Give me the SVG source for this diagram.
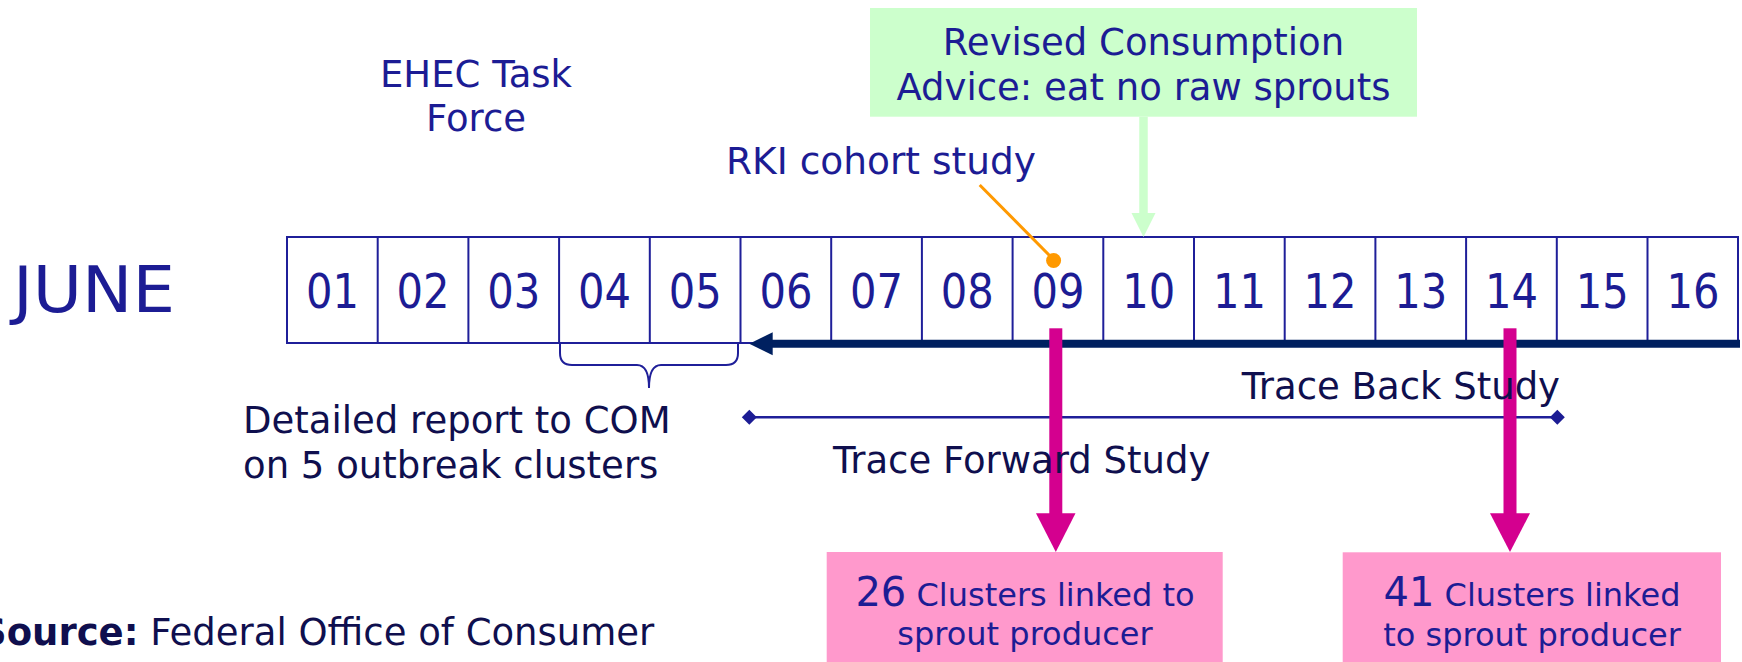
<svg xmlns="http://www.w3.org/2000/svg" width="1742" height="662" viewBox="0 0 1742 662">
<style>
  text { font-family: "DejaVu Sans", Verdana, sans-serif; }
  .blue { fill: #1C1C94; }
  .dark { fill: #0F0F4E; }
  .t37 { font-size: 37px; }
  .num { font-size: 48px; fill: #1C1C94; text-anchor: middle; }
  .grid { stroke: #1F1F99; stroke-width: 2; fill: none; }
  .pinkbox { fill: #FF99CC; }
  .pinktxt { fill: #1C1C94; text-anchor: middle; }
</style>
<defs>
  <marker id="diamond" markerUnits="userSpaceOnUse" markerWidth="16" markerHeight="16" refX="8" refY="8" viewBox="0 0 16 16">
    <path d="M8,0.5 L15.5,8 L8,15.5 L0.5,8 Z" fill="#1C1C94"/>
  </marker>
</defs>

<g id="timeline">
  <rect x="287" y="237" width="1451" height="106" class="grid"/>
  <path class="grid" d="M377.7,237V343 M468.4,237V343 M559.1,237V343 M649.8,237V343 M740.5,237V343 M831.2,237V343 M921.9,237V343 M1012.6,237V343 M1103.3,237V343 M1194,237V343 M1284.7,237V343 M1375.4,237V343 M1466.1,237V343 M1556.8,237V343 M1647.5,237V343"/>
  <text class="num" x="332.4" y="308.3" textLength="53" lengthAdjust="spacingAndGlyphs">01</text>
  <text class="num" x="423.1" y="308.3" textLength="53" lengthAdjust="spacingAndGlyphs">02</text>
  <text class="num" x="513.8" y="308.3" textLength="53" lengthAdjust="spacingAndGlyphs">03</text>
  <text class="num" x="604.5" y="308.3" textLength="53" lengthAdjust="spacingAndGlyphs">04</text>
  <text class="num" x="695.2" y="308.3" textLength="53" lengthAdjust="spacingAndGlyphs">05</text>
  <text class="num" x="785.9" y="308.3" textLength="53" lengthAdjust="spacingAndGlyphs">06</text>
  <text class="num" x="876.6" y="308.3" textLength="53" lengthAdjust="spacingAndGlyphs">07</text>
  <text class="num" x="967.3" y="308.3" textLength="53" lengthAdjust="spacingAndGlyphs">08</text>
  <text class="num" x="1058" y="308.3" textLength="53" lengthAdjust="spacingAndGlyphs">09</text>
  <text class="num" x="1148.7" y="308.3" textLength="53" lengthAdjust="spacingAndGlyphs">10</text>
  <text class="num" x="1239.4" y="308.3" textLength="53" lengthAdjust="spacingAndGlyphs">11</text>
  <text class="num" x="1330.1" y="308.3" textLength="53" lengthAdjust="spacingAndGlyphs">12</text>
  <text class="num" x="1420.8" y="308.3" textLength="53" lengthAdjust="spacingAndGlyphs">13</text>
  <text class="num" x="1511.5" y="308.3" textLength="53" lengthAdjust="spacingAndGlyphs">14</text>
  <text class="num" x="1602.2" y="308.3" textLength="53" lengthAdjust="spacingAndGlyphs">15</text>
  <text class="num" x="1692.9" y="308.3" textLength="53" lengthAdjust="spacingAndGlyphs">16</text>
</g>

<g id="june">
  <text class="blue" x="13" y="311.7" font-size="64" textLength="162" lengthAdjust="spacingAndGlyphs">JUNE</text>
</g>

<g id="ehec-task-force">
  <text class="blue t37" x="476" y="86.7" text-anchor="middle">EHEC Task</text>
  <text class="blue t37" x="476" y="130.7" text-anchor="middle">Force</text>
</g>

<g id="revised-advice">
  <rect x="870" y="8" width="547" height="108.7" fill="#CCFFCC"/>
  <text class="blue t37" x="1143.5" y="55" text-anchor="middle">Revised Consumption</text>
  <text class="blue t37" x="1143.5" y="100" text-anchor="middle">Advice: eat no raw sprouts</text>
</g>

<g id="rki-cohort">
  <text class="blue" x="726" y="174" font-size="37.5">RKI cohort study</text>
</g>

<g id="connectors">
  <!-- brace under 04-05 -->
  <path class="grid" d="M560,343 V353 Q560,365 572,365 H637 Q649,365 649,388 Q649,365 661,365 H726 Q738,365 738,353 V343"/>
  <!-- trace back navy arrow (points left) -->
  <line x1="1740" y1="343.8" x2="770" y2="343.8" stroke="#002060" stroke-width="8"/>
  <path d="M749.3,343.8 L772.7,332.3 L772.7,355.3 Z" fill="#002060"/>
  <!-- trace forward diamond line -->
  <line x1="749.3" y1="417.3" x2="1557.3" y2="417.3" stroke="#1F1F99" stroke-width="2.5" marker-start="url(#diamond)" marker-end="url(#diamond)"/>
  <!-- green arrow -->
  <line x1="1143.5" y1="116.7" x2="1143.5" y2="214" stroke="#CCFFCC" stroke-width="8.5"/>
  <path d="M1131.5,213 L1155.5,213 L1143.5,237 Z" fill="#CCFFCC"/>
  <!-- orange pointer -->
  <line x1="979.7" y1="185" x2="1052" y2="258" stroke="#FF9900" stroke-width="3"/>
  <circle cx="1053.6" cy="260.5" r="7.5" fill="#FF9900"/>
  <!-- magenta arrows -->
  <rect x="1049.3" y="328.3" width="13" height="186" fill="#D4008F"/>
  <path d="M1036,513.3 L1075.5,513.3 L1055.8,552 Z" fill="#D4008F"/>
  <rect x="1503.5" y="328.3" width="13" height="186" fill="#D4008F"/>
  <path d="M1490,513.3 L1530,513.3 L1510,552 Z" fill="#D4008F"/>
</g>

<g id="detailed-report">
  <text class="dark t37" x="243" y="433">Detailed report to COM</text>
  <text class="dark t37" x="243" y="478">on 5 outbreak clusters</text>
</g>

<g id="trace-back-label">
  <text class="dark t37" x="1241.7" y="399.3">Trace Back Study</text>
</g>

<g id="trace-forward-label">
  <text class="dark t37" x="833" y="473.3">Trace Forward Study</text>
</g>

<g id="clusters-26">
  <rect class="pinkbox" x="826.7" y="552" width="396" height="120"/>
  <text class="pinktxt" x="1025" y="606"><tspan font-size="40">26</tspan><tspan font-size="32"> Clusters linked to</tspan></text>
  <text class="pinktxt" x="1025" y="645" font-size="32">sprout producer</text>
</g>

<g id="clusters-41">
  <rect class="pinkbox" x="1342.7" y="552.3" width="378.3" height="120"/>
  <text class="pinktxt" x="1532" y="606"><tspan font-size="40">41</tspan><tspan font-size="32"> Clusters linked</tspan></text>
  <text class="pinktxt" x="1532" y="646" font-size="32">to sprout producer</text>
</g>

<g id="source">
  <text class="dark t37" x="-20" y="645"><tspan font-weight="bold">Source:</tspan> Federal Office of Consumer</text>
</g>
</svg>
